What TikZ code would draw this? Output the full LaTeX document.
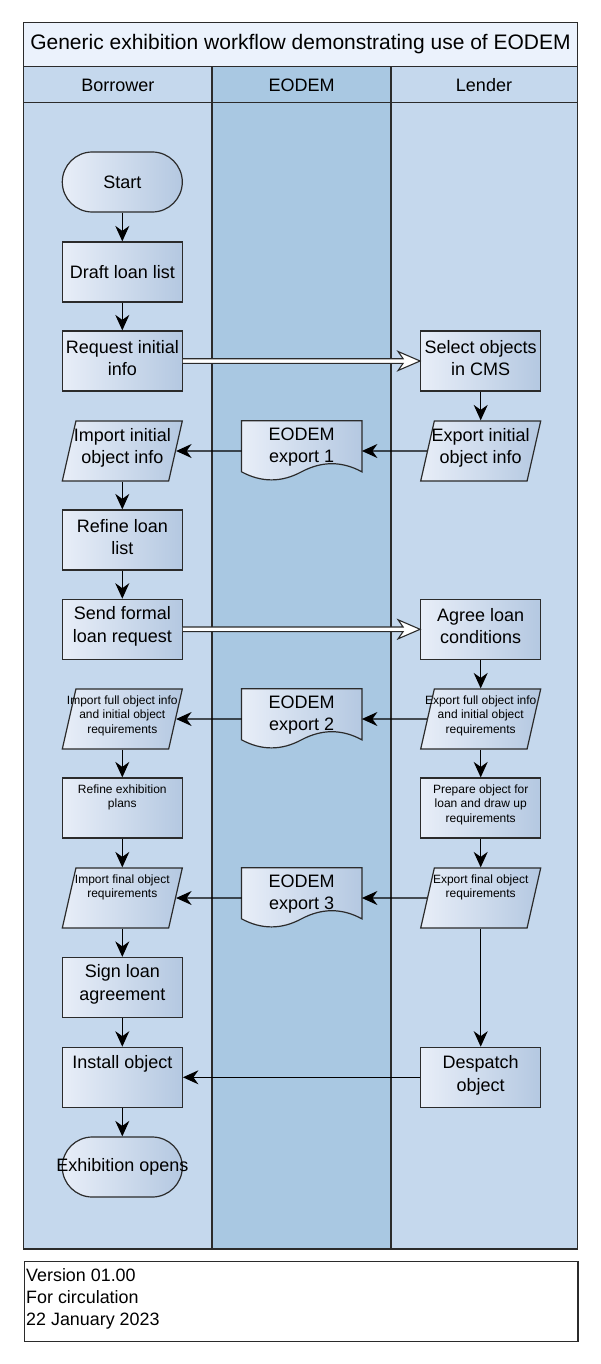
\documentclass[tikz,border=0pt]{standalone}
\usepackage{fontspec}
\setmainfont{Liberation Sans}
\usetikzlibrary{arrows.meta,shapes.geometric,calc}
\definecolor{lanelight}{HTML}{C5D8ED}
\definecolor{lanedark}{HTML}{A9C8E2}
\definecolor{titlefill}{HTML}{EBF2FC}
\definecolor{gradL}{HTML}{E8EEF8}
\definecolor{gradR}{HTML}{B4C8E1}
\definecolor{edgecol}{HTML}{2B2B2B}
\newcommand\fmain{\fontsize{18}{22.5}\selectfont}
\newcommand\fsmall{\fontsize{12}{14.6}\selectfont}
\newcommand\ftitle{\fontsize{21}{25}\selectfont}
\newcommand\fhead{\fontsize{18}{21}\selectfont}
\newcommand\ffoot{\fontsize{17.9}{22}\selectfont}
\newcommand\drawdoc[1]{%
  \draw[shapefill] (#1.north west) -- (#1.north east) -- ([shift={(0,51)}]#1.north east)
    .. controls ([shift={(-20,40.2)}]#1.north east) and ([shift={(-40,40.2)}]#1.north east) .. ([shift={(60,51)}]#1.north west)
    .. controls ([shift={(40,61.8)}]#1.north west) and ([shift={(20,61.8)}]#1.north west) .. ([shift={(0,51)}]#1.north west) -- cycle;}
\newcommand\dblarrow[2]{%
  \filldraw[fill=white, draw=edgecol, line width=1.1pt, line join=miter]
    ([yshift=2.3pt]#1.east) -- ([xshift=-17pt,yshift=2.3pt]#2.west) -- ([xshift=-22pt,yshift=9.5pt]#2.west)
    -- (#2.west) -- ([xshift=-22pt,yshift=-9.5pt]#2.west) -- ([xshift=-17pt,yshift=-2.3pt]#2.west)
    -- ([yshift=-2.3pt]#1.east);}
\tikzset{
  shapefill/.style={draw=edgecol, line width=1.2pt, left color=gradL, right color=gradR},
  box/.style={shapefill, minimum width=120pt, minimum height=60pt, inner sep=0pt, align=center, font=\fmain},
  proc/.style={box, rectangle},
  term/.style={box, rectangle, rounded corners=30pt},
  io/.style={box, shape=trapezium, trapezium left angle=77.2, trapezium right angle=102.8,
             trapezium stretches body, text height=60pt, text depth=0pt, text width=0pt},
  docbox/.style={rectangle, minimum width=120pt, minimum height=60pt, inner sep=0pt},
  ctext/.style={label={[inner sep=0pt, align=center, font=\fmain, yshift=3pt]center:{#1}}},
  stop/.style={label={[inner sep=0pt, align=center, font=\fsmall, anchor=north, yshift=-7pt]north:{#1}}},
  mtop/.style={label={[inner sep=0pt, align=center, font=\fmain, anchor=north, yshift=-9pt]north:{#1}}},
  arr/.style={draw=black, line width=1.2pt, -{Stealth[length=15.5pt,width=14pt,inset=5pt]}},
  lane/.style={draw=edgecol, line width=1.5pt},
}
\begin{document}
\begin{tikzpicture}[x=1pt,y=-1pt]
\useasboundingbox (0,0) rectangle (600,1364);
% pool
\fill[titlefill] (23.7,22.3) rectangle (577.3,66.7);
\fill[lanelight] (23.7,66.7) rectangle (212,1249);
\fill[lanedark] (212,66.7) rectangle (391,1249);
\fill[lanelight] (391,66.7) rectangle (577.3,1249);
\draw[lane] (23.7,66.7) -- (577.3,66.7);
\draw[lane] (23.7,102.7) -- (577.3,102.7);
\draw[lane] (212,66.7) -- (212,1249);
\draw[lane] (391,66.7) -- (391,1249);
\draw[lane] (23.7,22.3) rectangle (577.3,1249);
\node[font=\ftitle] (title) at (300.5,44.5) {Generic exhibition workflow demonstrating use of EODEM};
\node[font=\fhead] (hb) at (117.8,85.5) {Borrower};
\node[font=\fhead] (he) at (301.5,85.5) {EODEM};
\node[font=\fhead] (hl) at (484,85.5) {Lender};

% borrower column
\node[term] (start) at (122.3,182) {Start};
\node[proc] (draft) at (122.3,272) {Draft loan list};
\node[proc, ctext={Request initial\\info}] (req) at (122.3,361) {};
\node[io, ctext={Import initial\\object info}] (impA) at (122.3,451) {};
\node[proc, ctext={Refine loan\\list}] (refine) at (122.3,540) {};
\node[proc, ctext={Send formal\\loan request}] (send) at (122.3,629.3) {};
\node[io, stop={Import full object info\\and initial object\\requirements}] (impB) at (122.3,719) {};
\node[proc, stop={Refine exhibition\\plans}] (refex) at (122.3,808) {};
\node[io, stop={Import final object\\requirements}] (impC) at (122.3,898) {};
\node[proc, ctext={Sign loan\\agreement}] (sign) at (122.3,987.5) {};
\node[proc, mtop={Install object}] (install) at (122.3,1077.3) {};
\node[term, label={[inner sep=0pt, font=\fmain]center:Exhibition opens}] (open) at (122.3,1167) {};

% lender column
\node[proc, ctext={Select objects\\in CMS}] (sel) at (480.7,361) {};
\node[io, ctext={Export initial\\object info}] (expA) at (480.7,451) {};
\node[proc, ctext={Agree loan\\conditions}] (agree) at (480.7,629.3) {};
\node[io, stop={Export full object info\\and initial object\\requirements}] (expB) at (480.7,719) {};
\node[proc, stop={Prepare object for\\loan and draw up\\requirements}] (prep) at (480.7,808) {};
\node[io, stop={Export final object\\requirements}] (expC) at (480.7,898) {};
\node[proc, mtop={Despatch\\object}] (desp) at (480.7,1077.3) {};

% EODEM documents
\node[docbox] (d1) at (301.7,451) {};
\drawdoc{d1}
\node[font=\fmain, align=center, inner sep=0pt] (d1t) at ([yshift=4pt]d1.center) {EODEM\\export 1};
\node[docbox] (d2) at (301.7,719) {};
\drawdoc{d2}
\node[font=\fmain, align=center, inner sep=0pt] (d2t) at ([yshift=4pt]d2.center) {EODEM\\export 2};
\node[docbox] (d3) at (301.7,898) {};
\drawdoc{d3}
\node[font=\fmain, align=center, inner sep=0pt] (d3t) at ([yshift=4pt]d3.center) {EODEM\\export 3};

% vertical arrows
\draw[arr] (start) -- (draft);
\draw[arr] (draft) -- (req);
\draw[arr] (impA) -- (refine);
\draw[arr] (refine) -- (send);
\draw[arr] (impB) -- (refex);
\draw[arr] (refex) -- (impC);
\draw[arr] (impC) -- (sign);
\draw[arr] (sign) -- (install);
\draw[arr] (install) -- (open);
\draw[arr] (sel) -- (expA);
\draw[arr] (agree) -- (expB);
\draw[arr] (expB) -- (prep);
\draw[arr] (prep) -- (expC);
\draw[arr] (expC) -- (desp);
% horizontal arrows
\draw[arr] (expA) -- (d1);
\draw[arr] (d1) -- (impA);
\draw[arr] (expB) -- (d2);
\draw[arr] (d2) -- (impB);
\draw[arr] (expC) -- (d3);
\draw[arr] (d3) -- (impC);
\draw[arr] (desp) -- (install);
% double arrows
\dblarrow{req}{sel}
\dblarrow{send}{agree}

% footer
\node[draw=edgecol, line width=1.2pt, fill=white, minimum width=553.6pt, minimum height=80pt, anchor=north west, inner sep=0pt] (foot) at (23.7,1261) {};
\node[font=\ffoot, align=left, anchor=west, inner sep=0pt] (foottext) at (26,1299) {Version 01.00\\For circulation\\22 January 2023};
\end{tikzpicture}
\end{document}
